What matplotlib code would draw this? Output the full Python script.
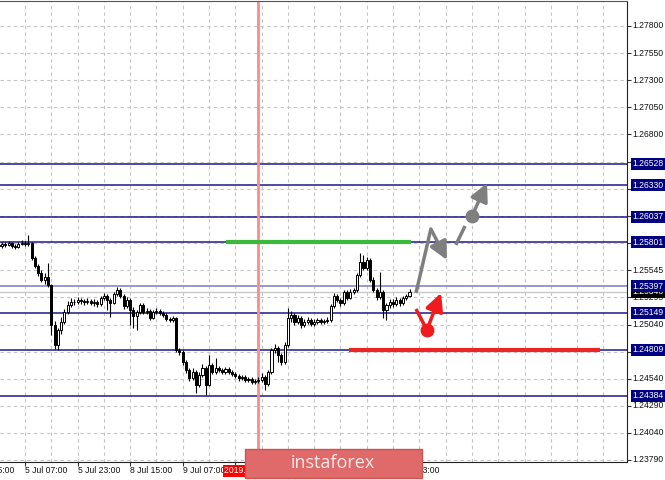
import numpy as np
import matplotlib
matplotlib.use("Agg")
import matplotlib.pyplot as plt
from matplotlib.patches import Rectangle
from matplotlib.transforms import blended_transform_factory

# hourly candles (bar index 0..125), prices
first_open = 1.25776
closes = [1.25767, 1.25786, 1.25776, 1.25795, 1.25767, 1.25758, 1.25786, 1.25795, 1.25786, 1.25795,
          1.25656, 1.25582, 1.25518, 1.25453, 1.25481, 1.25407, 1.25037, 1.24852, 1.24991, 1.25065,
          1.25157, 1.25222, 1.25250, 1.25250, 1.25268, 1.25259, 1.25250, 1.25259, 1.25241, 1.25250,
          1.25231, 1.25287, 1.25305, 1.25268, 1.25241, 1.25324, 1.25361, 1.25305, 1.25213, 1.25268,
          1.25176, 1.25120, 1.25157, 1.25222, 1.25157, 1.25167, 1.25102, 1.25157, 1.25167, 1.25148,
          1.25130, 1.25093, 1.25084, 1.25102, 1.24806, 1.24788, 1.24695, 1.24621, 1.24548, 1.24603,
          1.24483, 1.24575, 1.24640, 1.24483, 1.24668, 1.24603, 1.24640, 1.24621, 1.24603, 1.24631,
          1.24603, 1.24584, 1.24566, 1.24548, 1.24557, 1.24529, 1.24538, 1.24511, 1.24520, 1.24529,
          1.24557, 1.24492, 1.24603, 1.24806, 1.24825, 1.24760, 1.24695, 1.24852, 1.25102, 1.25130,
          1.25065, 1.25102, 1.25037, 1.25065, 1.25084, 1.25047, 1.25065, 1.25084, 1.25065, 1.25074,
          1.25084, 1.25213, 1.25305, 1.25268, 1.25241, 1.25342, 1.25287, 1.25342, 1.25361, 1.25499,
          1.25619, 1.25564, 1.25638, 1.25453, 1.25361, 1.25296, 1.25342, 1.25176, 1.25222, 1.25250,
          1.25231, 1.25268, 1.25241, 1.25287, 1.25305, 1.25346]
highs = [1.25795, 1.25804, 1.25804, 1.25813, 1.25804, 1.25786, 1.25804, 1.25823, 1.25813, 1.25869,
         1.25804, 1.25675, 1.25601, 1.25546, 1.25518, 1.25610, 1.25416, 1.25074, 1.25010, 1.25111,
         1.25185, 1.25259, 1.25287, 1.25278, 1.25296, 1.25287, 1.25278, 1.25287, 1.25278, 1.25278,
         1.25268, 1.25305, 1.25333, 1.25324, 1.25287, 1.25342, 1.25388, 1.25379, 1.25324, 1.25296,
         1.25287, 1.25204, 1.25176, 1.25241, 1.25241, 1.25194, 1.25185, 1.25176, 1.25194, 1.25185,
         1.25167, 1.25148, 1.25111, 1.25120, 1.25111, 1.24825, 1.24806, 1.24714, 1.24640, 1.24640,
         1.24621, 1.24603, 1.24677, 1.24658, 1.24760, 1.24686, 1.24732, 1.24658, 1.24640, 1.24649,
         1.24649, 1.24621, 1.24603, 1.24584, 1.24575, 1.24575, 1.24557, 1.24557, 1.24538, 1.24557,
         1.24594, 1.24575, 1.24621, 1.24825, 1.24862, 1.24843, 1.24778, 1.24880, 1.25194, 1.25167,
         1.25148, 1.25130, 1.25120, 1.25093, 1.25111, 1.25102, 1.25093, 1.25102, 1.25102, 1.25093,
         1.25111, 1.25231, 1.25333, 1.25324, 1.25287, 1.25361, 1.25361, 1.25370, 1.25379, 1.25518,
         1.25702, 1.25684, 1.25665, 1.25656, 1.25481, 1.25379, 1.25527, 1.25361, 1.25241, 1.25278,
         1.25278, 1.25296, 1.25287, 1.25305, 1.25324, 1.25370]
lows = [1.25749, 1.25749, 1.25758, 1.25767, 1.25749, 1.25740, 1.25749, 1.25776, 1.25767, 1.25767,
        1.25638, 1.25564, 1.25490, 1.25435, 1.25416, 1.25388, 1.24945, 1.24815, 1.24806, 1.24954,
        1.25047, 1.25139, 1.25204, 1.25222, 1.25231, 1.25231, 1.25222, 1.25231, 1.25222, 1.25213,
        1.25204, 1.25213, 1.25268, 1.25176, 1.25111, 1.25231, 1.25305, 1.25287, 1.25185, 1.25194,
        1.25037, 1.25010, 1.24991, 1.25139, 1.25139, 1.25139, 1.25084, 1.25093, 1.25139, 1.25130,
        1.25111, 1.25074, 1.25065, 1.25065, 1.24788, 1.24760, 1.24668, 1.24594, 1.24520, 1.24529,
        1.24409, 1.24465, 1.24557, 1.24390, 1.24474, 1.24584, 1.24584, 1.24603, 1.24584, 1.24584,
        1.24584, 1.24566, 1.24548, 1.24520, 1.24529, 1.24511, 1.24511, 1.24492, 1.24492, 1.24502,
        1.24511, 1.24437, 1.24474, 1.24584, 1.24778, 1.24695, 1.24668, 1.24677, 1.24834, 1.25065,
        1.25037, 1.25047, 1.25010, 1.25019, 1.25047, 1.25028, 1.25028, 1.25047, 1.25047, 1.25047,
        1.25056, 1.25065, 1.25194, 1.25250, 1.25213, 1.25222, 1.25268, 1.25278, 1.25324, 1.25342,
        1.25481, 1.25546, 1.25546, 1.25435, 1.25342, 1.25268, 1.25278, 1.25102, 1.25084, 1.25194,
        1.25204, 1.25213, 1.25213, 1.25222, 1.25268, 1.25296]

# horizontal levels (right axis boxes)
levels = [1.26528, 1.26330, 1.26037, 1.25801, 1.25397, 1.25149, 1.24809, 1.24384]
bid = 1.25346

# price scale: grid values, and the labels that are not hidden by the level boxes
grid_prices = [1.23790, 1.24040, 1.24290, 1.24540, 1.24790, 1.25040, 1.25295, 1.25545,
               1.25795, 1.26045, 1.26295, 1.26545, 1.26800, 1.27050, 1.27300, 1.27550, 1.27800]
scale_labels = ["1.23790", "1.24040", "1.24290", "1.24540", "1.25040", "1.25295",
                "1.25545", "1.26800", "1.27050", "1.27300", "1.27550", "1.27800"]

# time labels: every 16 hourly bars (the ones under the badge are not visible)
time_labels = ["4 Jul 15:00", "5 Jul 07:00", "5 Jul 23:00", "8 Jul 15:00", "9 Jul 07:00",
               "11 Jul 23:00"]
time_bars = [-8, 8, 24, 40, 56, 120]
tick_bars = [8, 24, 40, 56, 72, 88, 104, 120]
vline_bar = 78.9
vline_label = "2019.07.10 05:00"

# forecast marks
green_seg = ([69.1, 125.5], 1.25801)
red_seg = ([106.6, 183.0], 1.24809)
gray_up_x = [126.98, 131.5, 136.4]
gray_up_y = [1.25333, 1.25924, 1.25638]
gray_dash_x = [139.1, 141.9]
gray_dash_y = [1.25777, 1.25952]
gray_dot = (144.0, 1.26044)
gray_tip = (148.6, 1.26349)
red_x = [126.98, 130.3, 134.6]
red_y = [1.25185, 1.24991, 1.25333]

opens = [first_open] + closes[:-1]
n = len(closes)
idx = np.arange(n)

plt.rcParams["font.family"] = ["Liberation Sans", "DejaVu Sans"]
fig = plt.figure(figsize=(6.65, 4.8), dpi=100)
ax = fig.add_axes([0, 18 / 480, 627 / 665, 461 / 480])
ax.set_xlim(0.38, 0.38 + 627 / 3.286)
ax.set_ylim(1.23771, 1.28031)

grid_c = "#c4c4c4"
for b in range(8, 192, 8):
    ax.axvline(b, color=grid_c, lw=0.8, ls=(0, (3, 3)), zorder=0)
for p in grid_prices:
    ax.axhline(p, color=grid_c, lw=0.8, ls=(0, (3, 3)), zorder=0)

# levels
navy = "#1a1a88"
for lv in levels:
    c = "#7c7cc0" if lv == 1.25397 else navy
    ax.axhline(lv, color=c, lw=1.1, zorder=1)
ax.axhline(bid, color="#c8c8c8", lw=1, zorder=1)

ax.axvline(vline_bar, color="#ff8a8a", lw=2, zorder=1)

# candles
o = np.array(opens); c = np.array(closes)
ax.vlines(idx, lows, highs, color="black", lw=0.8, zorder=3)
up = c >= o
body_lo = np.minimum(o, c)
body_h = np.maximum(np.abs(c - o), 0.00002)
ax.bar(idx[up], body_h[up], bottom=body_lo[up], width=0.62, color="white",
       edgecolor="black", lw=0.7, zorder=4)
ax.bar(idx[~up], body_h[~up], bottom=body_lo[~up], width=0.62, color="black",
       edgecolor="black", lw=0.7, zorder=4)

# green / red target segments
ax.plot(green_seg[0], [green_seg[1]] * 2, color="#3cb93c", lw=3, zorder=2,
        solid_capstyle="butt")
ax.plot(red_seg[0], [red_seg[1]] * 2, color="#ee2424", lw=3, zorder=2,
        solid_capstyle="butt")

arrow = dict(arrowstyle="-|>,head_length=0.9,head_width=0.45", lw=2.5,
             shrinkA=0, shrinkB=0, mutation_scale=12)

# gray forecast
gray = "#7f7f7f"
ax.plot(gray_up_x[:2], gray_up_y[:2], color=gray, lw=2.5, zorder=5, solid_capstyle="butt")
ax.annotate("", xy=(gray_up_x[2], gray_up_y[2]), xytext=(gray_up_x[1], gray_up_y[1]),
            arrowprops=dict(arrow, color=gray), zorder=5)
ax.plot(gray_dash_x, gray_dash_y, color=gray, lw=2.5, zorder=5, solid_capstyle="butt")
ax.plot(*gray_dot, "o", color=gray, ms=9, zorder=6)
ax.annotate("", xy=gray_tip, xytext=gray_dot, arrowprops=dict(arrow, color=gray), zorder=5)

# red forecast
red = "#ee1c1c"
ax.plot(red_x[:2], red_y[:2], color=red, lw=2.5, zorder=5, solid_capstyle="butt")
ax.plot(red_x[1], red_y[1], "o", color=red, ms=9, zorder=6)
ax.annotate("", xy=(red_x[2], red_y[2]), xytext=(red_x[1], red_y[1]),
            arrowprops=dict(arrow, color=red), zorder=5)

# frame / ticks
ax.spines["left"].set_visible(False)
ax.spines["top"].set_color("#555555")
ax.spines["right"].set_color("#222222")
ax.spines["bottom"].set_color("#222222")
ax.set_yticks(grid_prices)
ax.set_xticks(tick_bars)
ax.tick_params(axis="y", left=False, right=True, labelleft=False, labelright=False,
               length=3, width=0.8, color="#333333")
ax.tick_params(axis="x", bottom=True, labelbottom=False, length=3, width=0.8, color="#333333")

fs = 6.2
ty = blended_transform_factory(ax.transAxes, ax.transData)
for s in scale_labels:
    ax.text(1.009, float(s), s, transform=ty, fontsize=fs, va="center", ha="left",
            color="#111111", clip_on=False, zorder=6)
ax.text(1.009, bid, f"{bid:.5f}", transform=ty, fontsize=fs, va="center", ha="left",
        color="white", clip_on=False, zorder=7,
        bbox=dict(boxstyle="square,pad=0.18", fc="black", ec="none"))
for lv in levels:
    ax.text(1.009, lv, f"{lv:.5f}", transform=ty, fontsize=fs, va="center", ha="left",
            color="white", clip_on=False, zorder=8,
            bbox=dict(boxstyle="square,pad=0.18", fc="#000080", ec="none"))

tx = blended_transform_factory(ax.transData, ax.transAxes)
for b, lab in zip(time_bars, time_labels):
    ax.text(b, -0.0195, lab, transform=tx, fontsize=fs, va="center", ha="left",
            color="#111111", clip_on=False)
ax.text(vline_bar, -0.0195, vline_label, transform=tx, fontsize=fs, va="center", ha="center",
        color="white", clip_on=False, zorder=8,
        bbox=dict(boxstyle="square,pad=0.15", fc="#ff0000", ec="none"))

# instaforex badge
fig.add_artist(Rectangle((245 / 665, 2 / 480), 177 / 665, 29 / 480, transform=fig.transFigure,
                         facecolor="#e06a6a", edgecolor="#c95555", lw=1, zorder=20))
fig.text(333 / 665, 16.5 / 480, "instaforex", fontsize=13, color="#fbeaea", ha="center",
         va="center", zorder=21, family=["Open Sans", "DejaVu Sans"])

fig.savefig("out.png", dpi=100, facecolor="white")
